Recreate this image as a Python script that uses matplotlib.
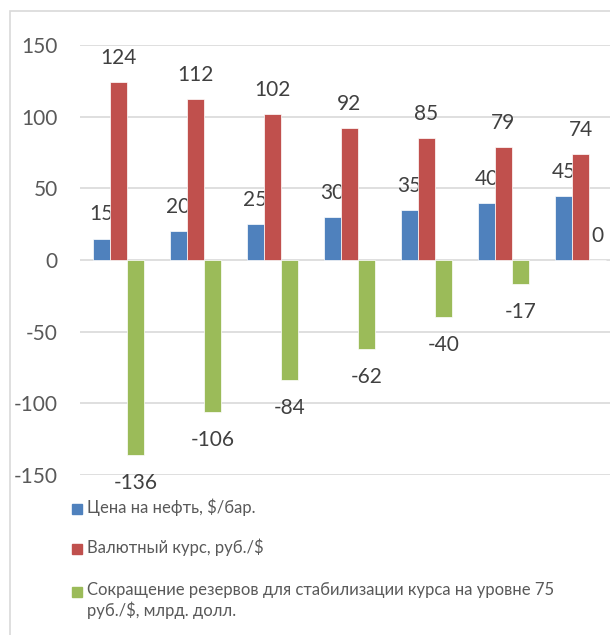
import matplotlib
matplotlib.use("Agg")
import matplotlib.pyplot as plt
import numpy as np
from matplotlib.patches import Rectangle

plt.rcParams['font.family'] = ['Lato', 'DejaVu Sans']
plt.rcParams['axes.unicode_minus'] = False

# data
oil_price = [15, 20, 25, 30, 35, 40, 45]
fx_rate = [124, 112, 102, 92, 85, 79, 74]
reserves_cut = [-136, -106, -84, -62, -40, -17, 0]
series_names = ['Цена на нефть, $/бар.',
                'Валютный курс, руб./$',
                'Сокращение резервов для стабилизации курса на уровне 75\nруб./$, млрд. долл.']
colors = ['#4F81BD', '#C0504D', '#9BBB59']
yticks = [-150, -100, -50, 0, 50, 100, 150]

W, H = 610, 635
fig = plt.figure(figsize=(W / 100, H / 100), dpi=100)

# chart border (extends past the crop on right/bottom)
fig.patches.append(Rectangle((10 / W, -0.1), 1.2, 1 - 11 / H + 0.1, transform=fig.transFigure,
                             fill=False, edgecolor='#d9d9d9', linewidth=1.2))

ax = fig.add_axes([80 / W, 1 - 475 / H, 539 / W, 430 / H])
x = np.arange(len(oil_price))
bw = 0.22
all_series = [oil_price, fx_rate, reserves_cut]
for i, vals in enumerate(all_series):
    bars = ax.bar(x + (i - 1) * bw, vals, bw, color=colors[i], edgecolor='white',
                  linewidth=0.5, zorder=3)
    for b, v in zip(bars, vals):
        cx = b.get_x() + b.get_width() / 2
        off = 24 if v >= 0 else -28
        ax.annotate(str(v), (cx, v), xytext=(0, off), textcoords='offset pixels',
                    ha='center', va='center', fontsize=15, color='#404040')

ax.set_xlim(-0.5, len(oil_price) - 0.5)
ax.set_ylim(-150, 150)
ax.set_yticks(yticks)
ax.set_xticks([])
ax.grid(axis='y', color='#d9d9d9', linewidth=1.2, zorder=0)
for s in ax.spines.values():
    s.set_visible(False)
ax.tick_params(axis='y', length=0, pad=16, labelsize=15, labelcolor='#595959')

# legend, drawn by hand to keep Excel's look
leg_y = [509, 549, 592]
for name, c, yy in zip(series_names, colors, leg_y):
    fig.patches.append(Rectangle((72 / W, 1 - (yy + 5) / H), 10 / W, 10 / H,
                                 transform=fig.transFigure, color=c))
    fig.text(87 / W, 1 - (yy - 10) / H, name, ha='left', va='top', fontsize=12,
             color='#595959', linespacing=1.27)

fig.savefig('out.png', dpi=100)
